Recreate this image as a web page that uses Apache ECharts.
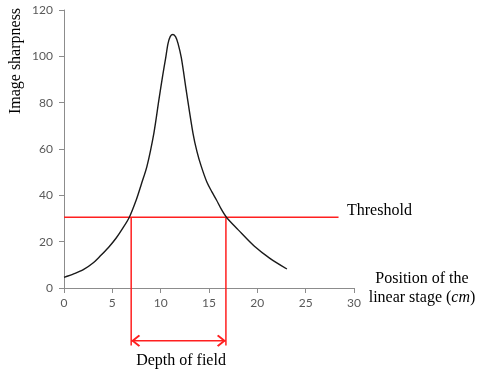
<!DOCTYPE html>
<html>
<head>
<meta charset="utf-8">
<script src="https://cdn.jsdelivr.net/npm/echarts@6/dist/echarts.min.js"></script>
<style>
html,body{margin:0;padding:0;background:#fff;}
#c{width:478px;height:374px;}
</style>
</head>
<body>
<div id="c"></div>
<script>
// ---- data ----
const positionX = [0, 1, 2, 3, 3.7, 4.6, 5.4, 6.0, 6.72, 7.48, 8.0, 8.58, 9.3, 9.82, 10.2, 10.52, 10.76, 11.0, 11.27, 11.55, 11.8, 12.14, 12.66, 13.34, 13.75, 14.2, 14.8, 15.3, 15.76, 16.3, 16.86, 18.0, 19.7, 21.3, 23.06];
const sharpness = [4.6, 6.1, 7.9, 10.8, 13.6, 17.5, 21.6, 25.3, 30.2, 38.1, 44.8, 52.5, 66.9, 81.3, 91.5, 99.3, 105.5, 108.6, 109.4, 108.4, 105.5, 99.3, 84.9, 66.9, 59, 52.5, 45.5, 41.5, 38.1, 33.8, 30.2, 25.2, 18, 12.8, 8.2];
const thresholdValue = 30.5;
const thresholdXEnd = 28.4;
const dofLeft = 6.95;
const dofRight = 16.75;
const dofArrowY = -22.8;
const dofLineBottom = -24.8;
const xTicks = [0, 5, 10, 15, 20, 25, 30];
const yTicks = [0, 20, 40, 60, 80, 100, 120];

const red = '#ff1f1f';
const serif = '"Liberation Serif", "Times New Roman", serif';
const tickFont = 'Lato, "Open Sans", sans-serif';

const chart = echarts.init(document.getElementById('c'), null, {renderer: 'canvas'});
const curve = positionX.map((x, i) => [x, sharpness[i]]);
// chevron pointing up, apex at the centre of the path's bounding box
const chevron = 'path://M10,-12 L10,-12 Z M0,10 L10,0 L20,10 L18,12 L10,4 L2,12 Z';

chart.setOption({
  animation: false,
  backgroundColor: '#fff',
  grid: {left: 64, right: 124, top: 10, bottom: 86, containLabel: false},
  xAxis: {
    type: 'value', min: xTicks[0], max: xTicks[xTicks.length - 1], interval: 5,
    axisLine: {show: true, lineStyle: {color: '#8c8c8c', width: 1}},
    axisTick: {show: true, length: 5, lineStyle: {color: '#8c8c8c'}},
    axisLabel: {color: '#595959', fontFamily: tickFont, fontSize: 12, margin: 9},
    splitLine: {show: false}
  },
  yAxis: {
    type: 'value', min: yTicks[0], max: yTicks[yTicks.length - 1], interval: 20,
    axisLine: {show: true, lineStyle: {color: '#8c8c8c', width: 1}},
    axisTick: {show: true, length: 5, lineStyle: {color: '#8c8c8c'}},
    axisLabel: {color: '#595959', fontFamily: tickFont, fontSize: 12, margin: 11},
    splitLine: {show: false}
  },
  series: [
    {
      type: 'line', data: curve, smooth: 0.3, showSymbol: false, symbol: 'none',
      lineStyle: {color: '#1a1a1a', width: 1.4}, z: 3
    },
    {
      type: 'line', data: [[0, thresholdValue], [thresholdXEnd, thresholdValue]],
      showSymbol: false, symbol: 'none', lineStyle: {color: red, width: 1.5}, z: 2
    },
    {
      type: 'line', clip: false, data: [[dofLeft, thresholdValue], [dofLeft, dofLineBottom]],
      showSymbol: false, symbol: 'none', lineStyle: {color: red, width: 1.5}, z: 2
    },
    {
      type: 'line', clip: false, data: [[dofRight, thresholdValue], [dofRight, dofLineBottom]],
      showSymbol: false, symbol: 'none', lineStyle: {color: red, width: 1.5}, z: 2
    },
    {
      type: 'line', clip: false,
      data: [
        {value: [dofLeft, dofArrowY], symbolRotate: 90},
        {value: [dofRight, dofArrowY], symbolRotate: -90}
      ],
      showSymbol: true, showAllSymbol: true, symbol: chevron, symbolSize: [12, 18],
      itemStyle: {color: red, borderWidth: 0, opacity: 1},
      lineStyle: {color: red, width: 1.5}, z: 4
    }
  ],
  graphic: [
    {type: 'text', x: 16, y: 61, rotation: Math.PI / 2,
      style: {text: 'Image sharpness', font: '16px ' + serif, fill: '#000', align: 'center', verticalAlign: 'middle'}},
    {type: 'text', x: 347, y: 211,
      style: {text: 'Threshold', font: '16px ' + serif, fill: '#000', align: 'left', verticalAlign: 'middle'}},
    {type: 'text', x: 422, y: 279,
      style: {text: 'Position of the', font: '16px ' + serif, fill: '#000', align: 'center', verticalAlign: 'middle'}},
    {type: 'text', x: 422, y: 298,
      style: {
        text: '{n|linear stage (}{i|cm}{n|)}',
        align: 'center', verticalAlign: 'middle',
        rich: {
          n: {font: '16px ' + serif, fill: '#000'},
          i: {font: 'italic 16px ' + serif, fill: '#000'}
        }
      }},
    {type: 'text', x: 181, y: 361,
      style: {text: 'Depth of field', font: '16px ' + serif, fill: '#000', align: 'center', verticalAlign: 'middle'}}
  ]
});
</script>
</body>
</html>
